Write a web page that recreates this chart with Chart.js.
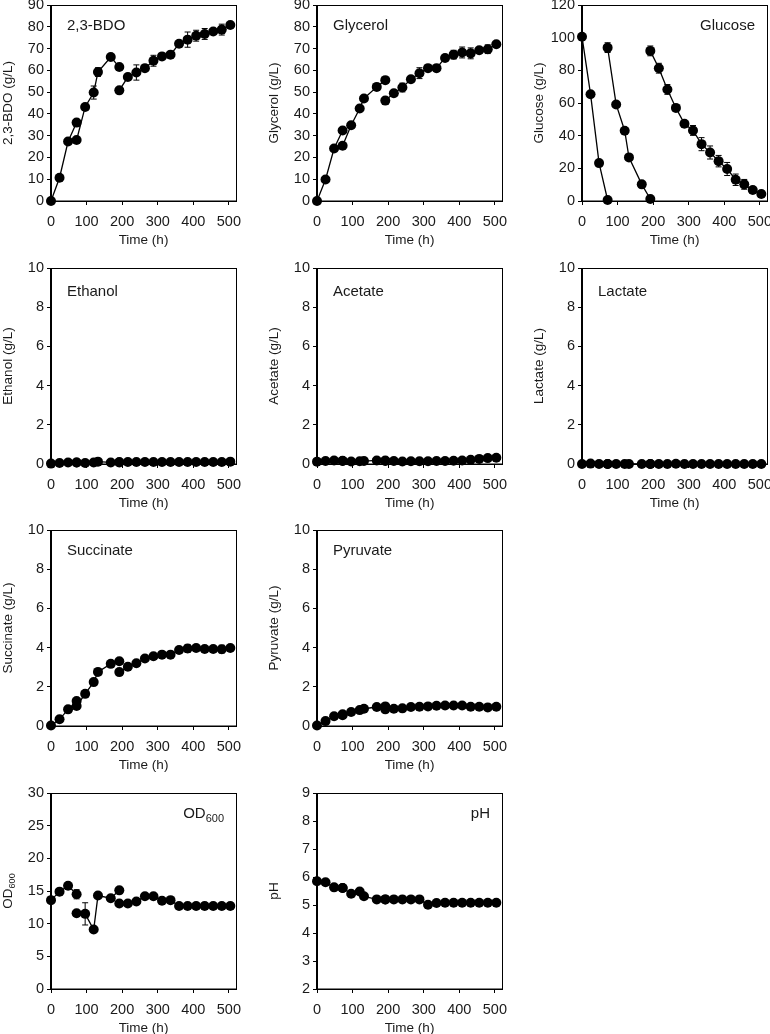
<!DOCTYPE html>
<html>
<head>
<meta charset="utf-8">
<script src="https://cdn.jsdelivr.net/npm/chart.js@4"></script>
<style>
  html, body { margin: 0; padding: 0; background: #fff; overflow: hidden; }
  .panel { position: absolute; }
</style>
</head>
<body>
<div id="root"></div>
<script>
// sampling times (h) - the run restarts after feeding at 72 h and 192 h
const time1 = [0, 24, 48, 72];
const time2 = [72, 96, 120, 132, 168, 192];
const time3 = [192, 216, 240, 264, 288, 312, 336, 360, 384, 408, 432, 456, 480, 504];
const timeTicks = [0, 100, 200, 300, 400, 500];

// y tick sets
const ticks90 = [0, 10, 20, 30, 40, 50, 60, 70, 80, 90];
const ticks120 = [0, 20, 40, 60, 80, 100, 120];
const ticks10 = [0, 2, 4, 6, 8, 10];
const ticks30 = [0, 5, 10, 15, 20, 25, 30];
const ticksPH = [2, 3, 4, 5, 6, 7, 8, 9];

// 2,3-BDO (g/L)
const bdo1 = [0, 10.7, 27.3, 36];
const bdo2 = [28, 43.2, 49.8, 59.2, 66.1, 61.5];
const bdo3 = [50.8, 56.9, 59, 61, 64.4, 66.4, 67.2, 72.2, 74.1, 75.9, 76.7, 77.8, 78.7, 80.8];
const bdoErr1 = [0, 0.5, 0.8, 1];
const bdoErr2 = [1, 1, 3, 2, 1, 1];
const bdoErr3 = [1, 1, 3.5, 1, 2.5, 1, 1, 1.5, 3.5, 2.5, 2.5, 1, 2.5, 1];

// Glycerol (g/L)
const gly1 = [0, 9.9, 24.1, 32.4];
const gly2 = [25.4, 34.8, 42.5, 47.1, 52.4, 55.5];
const gly3 = [46.1, 49.5, 52.1, 55.9, 58.7, 61, 61, 65.7, 67.2, 68.2, 67.8, 69.2, 69.7, 72];
const glyErr1 = [0, 0.5, 0.5, 0.5];
const glyErr2 = [0.5, 0.5, 1, 1, 1, 1];
const glyErr3 = [1.5, 1, 2, 1, 2.5, 1, 1, 1, 2, 2.5, 2.5, 1, 2, 1];

// Glucose (g/L)
const glc1 = [100.6, 65.4, 23.2, 0.6];
const glc2 = [93.9, 59.1, 43, 26.7, 10.2, 1.2];
const glc3 = [91.9, 81.3, 68.3, 57, 47.3, 43.2, 34.8, 29.7, 24.4, 19.6, 13, 10.2, 6.7, 4.3];
const glcErr1 = [1, 1, 1, 0.5];
const glcErr2 = [3, 1, 1, 1, 1, 0.5];
const glcErr3 = [3, 3, 3, 1, 1, 3, 4, 4, 3.5, 4, 3.5, 3, 2, 2];

// Ethanol (g/L)
const eth1 = [0.02, 0.05, 0.08, 0.08];
const eth2 = [0.08, 0.05, 0.08, 0.12, 0.08, 0.1];
const eth3 = [0.08, 0.1, 0.1, 0.1, 0.1, 0.1, 0.1, 0.1, 0.1, 0.1, 0.1, 0.1, 0.1, 0.12];

// Acetate (g/L)
const ace1 = [0.12, 0.15, 0.18, 0.17];
const ace2 = [0.15, 0.13, 0.14, 0.15, 0.18, 0.18];
const ace3 = [0.15, 0.15, 0.13, 0.14, 0.14, 0.14, 0.15, 0.15, 0.17, 0.18, 0.22, 0.26, 0.3, 0.32];

// Lactate (g/L)
const lac1 = [0, 0.02, 0, 0];
const lac2 = [0, 0, 0, 0, 0, 0];
const lac3 = [0, 0, 0, 0.01, 0, 0, 0, 0, 0, 0, 0, 0, 0, 0];

// Succinate (g/L)
const suc1 = [0.03, 0.34, 0.85, 1.27];
const suc2 = [1.02, 1.64, 2.24, 2.76, 3.17, 3.3];
const suc3 = [2.75, 3.02, 3.2, 3.44, 3.56, 3.64, 3.64, 3.88, 3.95, 3.98, 3.93, 3.93, 3.92, 3.98];
const sucErr3 = [0, 0, 0.08, 0, 0, 0, 0, 0.1, 0.2, 0, 0.08, 0, 0.2, 0.12];

// Pyruvate (g/L)
const pyr1 = [0.03, 0.25, 0.5, 0.6];
const pyr2 = [0.55, 0.71, 0.81, 0.88, 0.97, 1.0];
const pyr3 = [0.85, 0.88, 0.9, 0.97, 0.98, 1.0, 1.03, 1.05, 1.05, 1.05, 0.98, 0.98, 0.95, 0.98];

// OD600
const od1 = [13.6, 14.9, 15.8, 14.5];
const od2 = [11.6, 11.5, 9.1, 14.3, 13.9, 15.1];
const od3 = [13.1, 13.1, 13.4, 14.2, 14.2, 13.5, 13.6, 12.7, 12.7, 12.7, 12.7, 12.7, 12.7, 12.7];
const odErr1 = [0.4, 0.4, 0.4, 0.7];
const odErr2 = [0.3, 1.7, 0.3, 0.3, 0.3, 0.3];
const odErr3 = [0.2, 0.2, 0.2, 0.2, 0.2, 0.2, 0.2, 0.3, 0.3, 0.3, 0.5, 0.3, 0.3, 0.5];

// pH
const ph1 = [5.85, 5.81, 5.63, 5.61];
const ph2 = [5.61, 5.4, 5.48, 5.31, 5.2, 5.2];
const ph3 = [5.2, 5.2, 5.2, 5.2, 5.2, 5.01, 5.07, 5.08, 5.08, 5.08, 5.08, 5.08, 5.08, 5.08];

const FONT = '"Liberation Sans", Arial, Helvetica, sans-serif';
const INK = '#1a1a1a';

// plot-area placement on the page
const colX = [51, 317, 582];
const rowY = [5, 268, 530, 793];
const plotW = 185, plotH = 196;
const padL = 51, padT = 8, padR = 12, padB = 47;

const panels = [
  { col: 0, row: 0, name: '2,3-BDO', yTitle: '2,3-BDO (g/L)', yMin: 0, yMax: 90, yTicks: ticks90,
    series: [[time1, bdo1, bdoErr1], [time2, bdo2, bdoErr2], [time3, bdo3, bdoErr3]] },
  { col: 1, row: 0, name: 'Glycerol', yTitle: 'Glycerol (g/L)', yMin: 0, yMax: 90, yTicks: ticks90,
    series: [[time1, gly1, glyErr1], [time2, gly2, glyErr2], [time3, gly3, glyErr3]] },
  { col: 2, row: 0, name: 'Glucose', yTitle: 'Glucose (g/L)', yMin: 0, yMax: 120, yTicks: ticks120, right: true,
    series: [[time1, glc1, glcErr1], [time2, glc2, glcErr2], [time3, glc3, glcErr3]] },
  { col: 0, row: 1, name: 'Ethanol', yTitle: 'Ethanol (g/L)', yMin: 0, yMax: 10, yTicks: ticks10,
    series: [[time1, eth1], [time2, eth2], [time3, eth3]] },
  { col: 1, row: 1, name: 'Acetate', yTitle: 'Acetate (g/L)', yMin: 0, yMax: 10, yTicks: ticks10,
    series: [[time1, ace1], [time2, ace2], [time3, ace3]] },
  { col: 2, row: 1, name: 'Lactate', yTitle: 'Lactate (g/L)', yMin: 0, yMax: 10, yTicks: ticks10,
    series: [[time1, lac1], [time2, lac2], [time3, lac3]] },
  { col: 0, row: 2, name: 'Succinate', yTitle: 'Succinate (g/L)', yMin: 0, yMax: 10, yTicks: ticks10,
    series: [[time1, suc1], [time2, suc2], [time3, suc3, sucErr3]] },
  { col: 1, row: 2, name: 'Pyruvate', yTitle: 'Pyruvate (g/L)', yMin: 0, yMax: 10, yTicks: ticks10,
    series: [[time1, pyr1], [time2, pyr2], [time3, pyr3]] },
  { col: 0, row: 3, name: 'OD', sub: '600', yTitle: 'OD', yTitleSub: '600', yMin: 0, yMax: 30, yTicks: ticks30, right: true,
    series: [[time1, od1, odErr1], [time2, od2, odErr2], [time3, od3, odErr3]] },
  { col: 1, row: 3, name: 'pH', yTitle: 'pH', yMin: 2, yMax: 9, yTicks: ticksPH, right: true,
    series: [[time1, ph1], [time2, ph2], [time3, ph3]] }
];

// text with an optional subscript part, drawn from (x, y) with left alignment
function drawSubText(ctx, main, sub, x, y, size, subSize) {
  ctx.font = size + 'px ' + FONT;
  ctx.fillText(main, x, y);
  if (!sub) return;
  const w = ctx.measureText(main).width;
  ctx.font = subSize + 'px ' + FONT;
  ctx.fillText(sub, x + w, y + size * 0.35);
}

function subTextWidth(ctx, main, sub, size, subSize) {
  ctx.font = size + 'px ' + FONT;
  let w = ctx.measureText(main).width;
  if (sub) {
    ctx.font = subSize + 'px ' + FONT;
    w += ctx.measureText(sub).width;
  }
  return w;
}

const panelDecor = {
  id: 'panelDecor',
  beforeDatasetsDraw(chart, args, opts) {
    const { ctx, chartArea: a } = chart;
    const ys = chart.scales.y;
    ctx.save();
    ctx.strokeStyle = '#000';
    ctx.lineWidth = 1;
    ctx.strokeRect(Math.round(a.left) - 0.5, Math.round(a.top) + 0.5,
      Math.round(a.width) + 1, Math.round(a.height) - 0.5);
    // error bars
    chart.data.datasets.forEach((ds, i) => {
      if (!ds.err) return;
      const meta = chart.getDatasetMeta(i);
      ds.err.forEach((e, j) => {
        if (!e) return;
        const x = meta.data[j].x;
        const v = ds.data[j].y;
        const y1 = ys.getPixelForValue(v - e);
        const y2 = ys.getPixelForValue(v + e);
        ctx.beginPath();
        ctx.moveTo(x, y1); ctx.lineTo(x, y2);
        ctx.moveTo(x - 3, y1); ctx.lineTo(x + 3, y1);
        ctx.moveTo(x - 3, y2); ctx.lineTo(x + 3, y2);
        ctx.stroke();
      });
    });
    ctx.restore();
  },
  afterDraw(chart, args, opts) {
    const { ctx, chartArea: a } = chart;
    const p = opts.panel;
    ctx.save();
    ctx.fillStyle = INK;
    ctx.textBaseline = 'middle';
    ctx.textAlign = 'left';
    // name inside the plot
    const size = 15, subSize = 11;
    const w = subTextWidth(ctx, p.name, p.sub, size, subSize);
    const x = p.right ? a.right - 12 - w : a.left + 16;
    const y = a.top + (p.row === 1 ? 24 : 21);
    drawSubText(ctx, p.name, p.sub, x, y, size, subSize);
    // y title with subscript, drawn by hand
    if (p.yTitleSub) {
      const tw = subTextWidth(ctx, p.yTitle, p.yTitleSub, 13.5, 9);
      ctx.translate(8, (a.top + a.bottom) / 2);
      ctx.rotate(-Math.PI / 2);
      drawSubText(ctx, p.yTitle, p.yTitleSub, -tw / 2, 0, 13.5, 9);
    }
    ctx.restore();
  }
};

const root = document.getElementById('root');

panels.forEach((p) => {
  const box = document.createElement('div');
  box.className = 'panel';
  box.style.left = (colX[p.col] - padL) + 'px';
  box.style.top = (rowY[p.row] - padT) + 'px';
  const canvas = document.createElement('canvas');
  canvas.width = padL + plotW + padR;
  canvas.height = padT + plotH + padB;
  box.appendChild(canvas);
  root.appendChild(box);

  const datasets = p.series.map(([t, vals, err]) => ({
    data: t.map((x, k) => ({ x: x, y: vals[k] })),
    err: err,
    borderColor: '#000',
    borderWidth: 1.3,
    pointRadius: 5,
    pointHoverRadius: 5,
    pointBackgroundColor: '#000',
    pointBorderWidth: 0,
    tension: 0,
    clip: false
  }));

  new Chart(canvas, {
    type: 'line',
    data: { datasets },
    plugins: [panelDecor],
    options: {
      responsive: false,
      animation: false,
      events: [],
      layout: { padding: { top: padT, right: padR, left: 0, bottom: 0 } },
      plugins: {
        legend: { display: false },
        tooltip: { enabled: false },
        panelDecor: { panel: p }
      },
      scales: {
        x: {
          type: 'linear',
          min: 0,
          max: 520,
          afterBuildTicks: s => { s.ticks = timeTicks.map(v => ({ value: v })); },
          afterFit: s => { s.height = padB; s.paddingLeft = 0; s.paddingRight = 0; },
          grid: { drawOnChartArea: false, drawTicks: true, tickLength: 4, color: '#000' },
          border: { color: '#000', width: 1 },
          ticks: { color: INK, font: { family: FONT, size: 14.5 }, padding: 8, maxRotation: 0 },
          title: { display: true, text: 'Time (h)', color: INK, font: { family: FONT, size: 13.5 }, padding: 0 }
        },
        y: {
          min: p.yMin,
          max: p.yMax,
          afterBuildTicks: s => { s.ticks = p.yTicks.map(v => ({ value: v })); },
          afterFit: s => { s.width = padL; s.paddingTop = 0; s.paddingBottom = 0; },
          grid: { drawOnChartArea: false, drawTicks: true, tickLength: 4, color: '#000' },
          border: { color: '#000', width: 1 },
          ticks: { color: INK, font: { family: FONT, size: 14.5 }, padding: 3 },
          title: { display: !p.yTitleSub, text: p.yTitle, color: INK, font: { family: FONT, size: 13.5 }, padding: 0 }
        }
      }
    }
  });
});
</script>
</body>
</html>
